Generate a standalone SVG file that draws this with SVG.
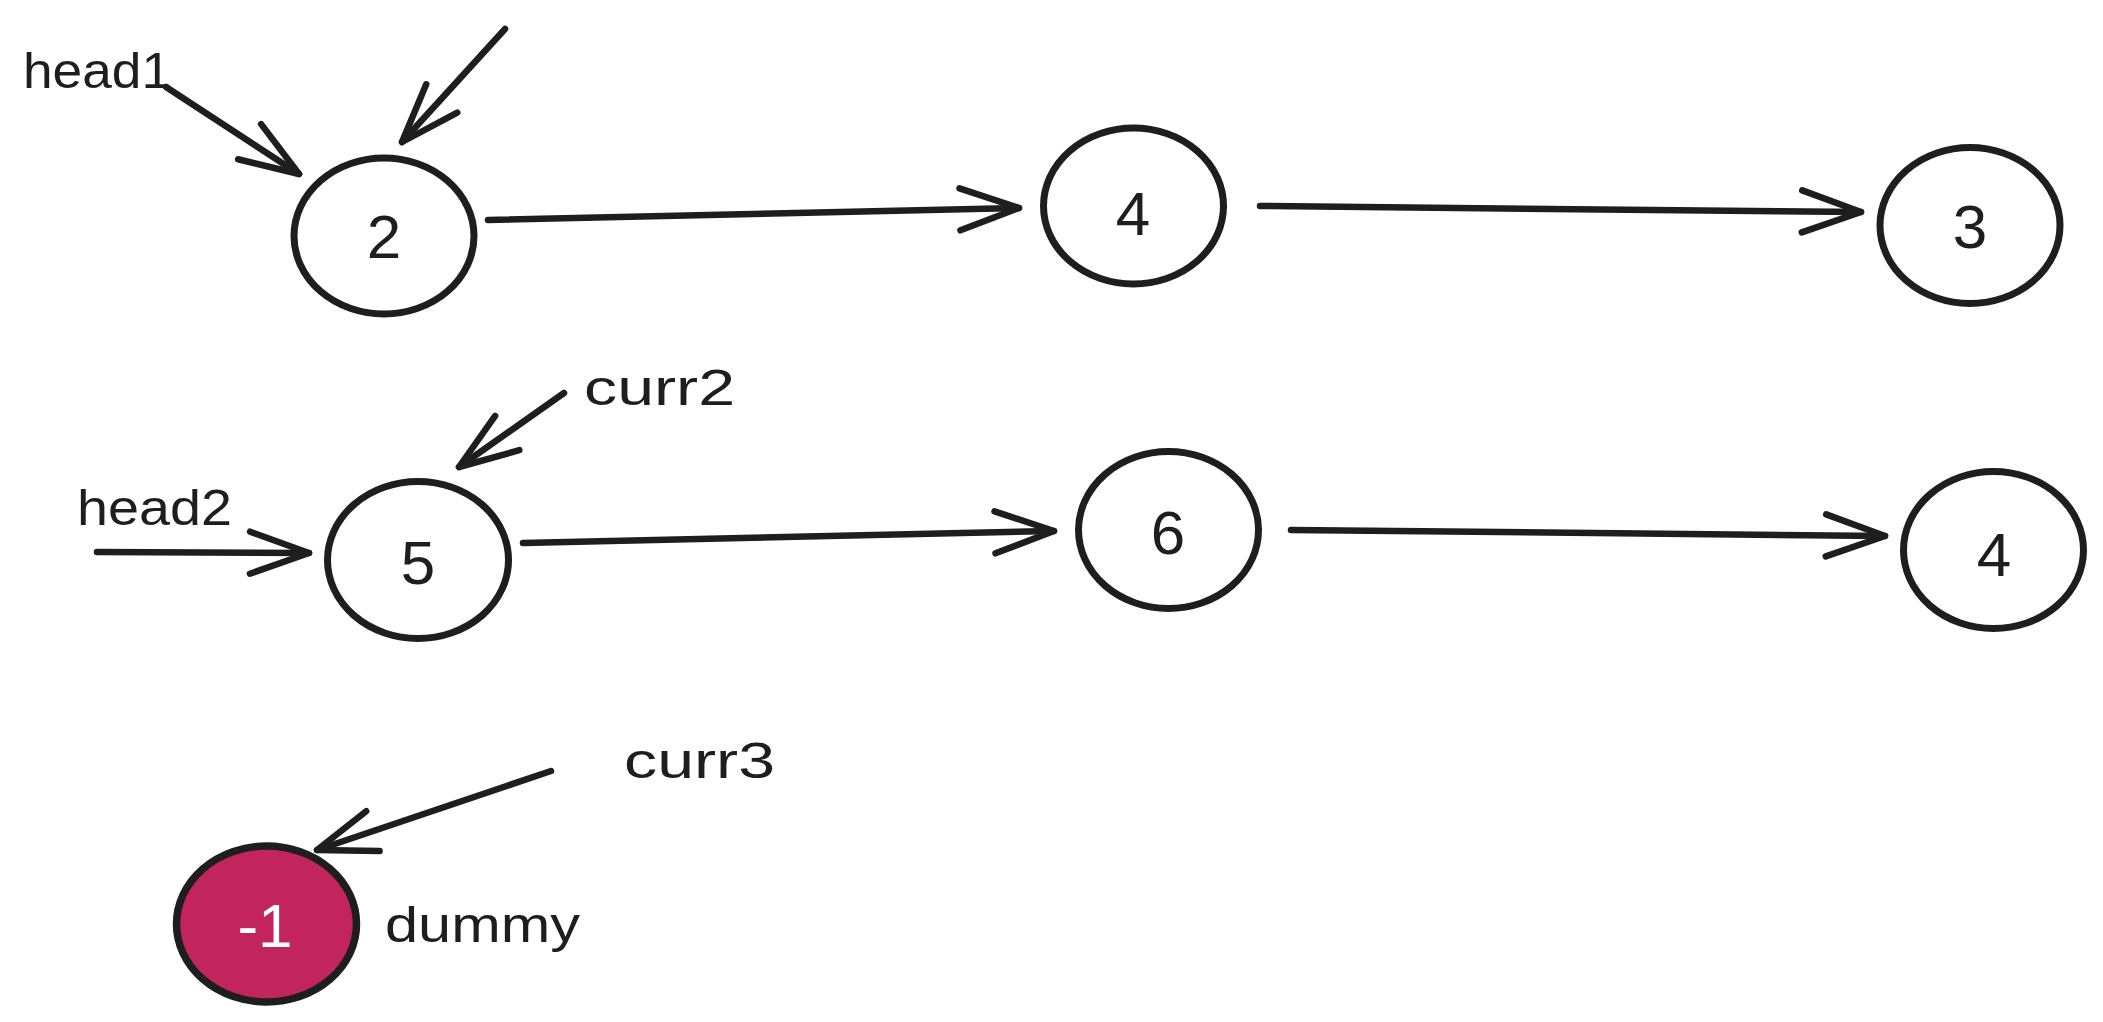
<svg xmlns="http://www.w3.org/2000/svg" width="2103" height="1022" viewBox="0 0 2103 1022">
<defs>
<style>
.node{fill:#ffffff;stroke:#1e1e1e;stroke-width:7}
.dummy{fill:#c2255c;stroke:#1e1e1e;stroke-width:7.5}
.num{font-family:"Liberation Sans",Arial,sans-serif;font-size:62px;fill:#1e1e1e;text-anchor:middle}
.numw{fill:#ffffff}
.lbl{font-family:"Liberation Sans",Arial,sans-serif;font-size:50px;fill:#1e1e1e}
.edge{fill:none;stroke:#1e1e1e;stroke-width:6.5;stroke-linecap:round;marker-end:url(#chev)}
</style>
<marker id="chev" markerUnits="userSpaceOnUse" viewBox="-70 -30 80 60" markerWidth="80" markerHeight="60" refX="0" refY="0" orient="auto" overflow="visible">
<path d="M-59,-21 L0,0 L-59,21" fill="none" stroke="#1e1e1e" stroke-width="6.5" stroke-linecap="round" stroke-linejoin="round"/>
</marker>
</defs>
<rect width="2103" height="1022" fill="#ffffff"/>
<g id="connectors">
<line class="edge" x1="166" y1="87" x2="299" y2="174"/>
<line class="edge" x1="505" y1="29" x2="402" y2="142"/>
<line class="edge" x1="488" y1="220" x2="1019" y2="208"/>
<line class="edge" x1="1260" y1="206" x2="1861" y2="212"/>
<line class="edge" x1="564" y1="393" x2="459" y2="467"/>
<line class="edge" x1="97" y1="552" x2="309" y2="553"/>
<line class="edge" x1="523" y1="543" x2="1054" y2="531"/>
<line class="edge" x1="1291" y1="530" x2="1885" y2="536"/>
<line class="edge" x1="551" y1="771" x2="317" y2="850"/>
</g>
<g id="node-2">
<ellipse class="node" cx="384" cy="236" rx="90" ry="78"/>
<text class="num" x="384" y="258">2</text>
</g>
<g id="node-4a">
<ellipse class="node" cx="1133.5" cy="206" rx="90" ry="78"/>
<text class="num" x="1133" y="235">4</text>
</g>
<g id="node-3">
<ellipse class="node" cx="1970" cy="225.5" rx="90" ry="78"/>
<text class="num" x="1970" y="248">3</text>
</g>
<g id="node-5">
<ellipse class="node" cx="418" cy="560" rx="90.5" ry="78.5"/>
<text class="num" x="418" y="584">5</text>
</g>
<g id="node-6">
<ellipse class="node" cx="1168.5" cy="530" rx="90" ry="78.5"/>
<text class="num" x="1168" y="554">6</text>
</g>
<g id="node-4b">
<ellipse class="node" cx="1993.5" cy="550" rx="90" ry="78.5"/>
<text class="num" x="1994" y="576">4</text>
</g>
<g id="node-dummy">
<ellipse class="dummy" cx="266.5" cy="924" rx="90" ry="78"/>
<text class="num numw" x="265" y="947">-1</text>
</g>
<g id="labels">
<text class="lbl" x="23" y="88" textLength="148" lengthAdjust="spacingAndGlyphs">head1</text>
<text class="lbl" x="584" y="405" textLength="151" lengthAdjust="spacingAndGlyphs">curr2</text>
<text class="lbl" x="77" y="525" textLength="155" lengthAdjust="spacingAndGlyphs">head2</text>
<text class="lbl" x="624" y="778" textLength="151" lengthAdjust="spacingAndGlyphs">curr3</text>
<text class="lbl" x="385" y="942" textLength="195" lengthAdjust="spacingAndGlyphs">dummy</text>
</g>
</svg>
